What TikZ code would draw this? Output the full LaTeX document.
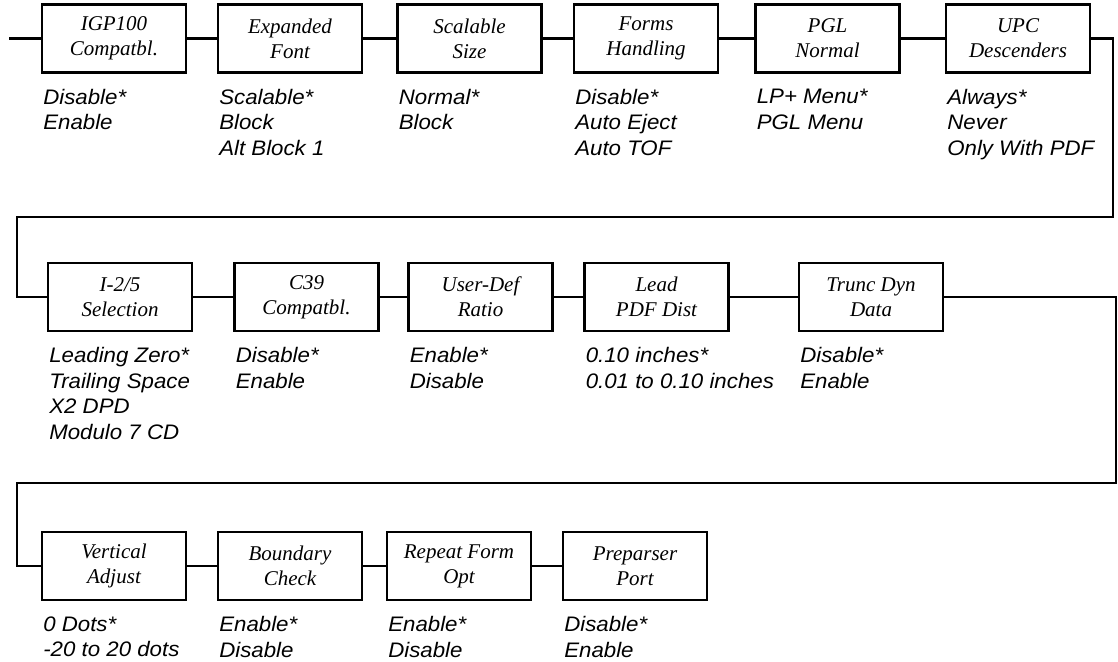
\documentclass[tikz,border=0pt]{standalone}
\usepackage{fontspec}
\setmainfont{Liberation Serif}
\newfontfamily\optfont[FakeStretch=1.06]{Liberation Sans}
\usetikzlibrary{calc}

\tikzset{
    menubox/.style={draw, line width=1.1pt, minimum width=72pt, minimum height=34pt,
        inner sep=0pt, align=center, font=\itshape\fontsize{10.5}{12.5}\selectfont},
    choices/.style={anchor=north west, inner sep=0pt, align=left,
        font=\optfont\itshape\fontsize{10.5}{12.8}\selectfont},
    link/.style={line width=1.1pt},
}

\begin{document}
\begin{tikzpicture}[x=0.5pt, y=-0.5pt]
    \useasboundingbox (0,0) rectangle (1118,662);
    \def\yA{38.5}
    \def\yB{297}
    \def\yC{566}

    % ---------- first row ----------
    \node[menubox] (igp)      at (114,\yA)    {IGP100\\Compatbl.};
    \node[menubox] (expfont)  at (290,\yA)    {Expanded\\Font};
    \node[menubox] (scalsize) at (469.5,\yA)  {Scalable\\Size};
    \node[menubox] (forms)    at (646,\yA)    {Forms\\Handling};
    \node[menubox] (pgl)      at (827.5,\yA)  {PGL\\Normal};
    \node[menubox] (upc)      at (1018,\yA)   {UPC\\Descenders};

    % ---------- second row ----------
    \node[menubox] (i25)      at (120,\yB)    {I-2/5\\Selection};
    \node[menubox] (c39)      at (306.5,\yB)  {C39\\Compatbl.};
    \node[menubox] (userdef)  at (480.5,\yB)  {User-Def\\Ratio};
    \node[menubox] (lead)     at (656.5,\yB)  {Lead\\PDF Dist};
    \node[menubox] (trunc)    at (871,\yB)    {Trunc Dyn\\Data};

    % ---------- third row ----------
    \node[menubox] (vert)     at (114,\yC)    {Vertical\\Adjust};
    \node[menubox] (bound)    at (290,\yC)    {Boundary\\Check};
    \node[menubox] (repeat)   at (459,\yC)    {Repeat Form\\Opt};
    \node[menubox] (prep)     at (635,\yC)    {Preparser\\Port};

    % ---------- choices under the boxes ----------
    \foreach \n/\t in {igp/{Disable*\\Enable},
                       expfont/{Scalable*\\Block\\Alt Block 1},
                       scalsize/{Normal*\\Block},
                       forms/{Disable*\\Auto Eject\\Auto TOF},
                       pgl/{LP+ Menu*\\PGL Menu},
                       upc/{Always*\\Never\\Only With PDF},
                       i25/{Leading Zero*\\Trailing Space\\X2 DPD\\Modulo 7 CD},
                       c39/{Disable*\\Enable},
                       userdef/{Enable*\\Disable},
                       lead/{0.10 inches*\\0.01 to 0.10 inches},
                       trunc/{Disable*\\Enable},
                       vert/{0 Dots*\\-20 to 20 dots},
                       bound/{Enable*\\Disable},
                       repeat/{Enable*\\Disable},
                       prep/{Disable*\\Enable}} {
        \node[choices] (\n opt) at ($(\n.south west)+(2,15)$) {\t};
    }

    % ---------- connectors ----------
    \coordinate (start) at (9,\yA);
    \coordinate (wrapAr) at (1113,217);
    \coordinate (wrapAl) at (17,217);
    \coordinate (wrapBr) at (1116,483);
    \coordinate (wrapBl) at (17,483);

    \draw[link] (start) -- (igp);
    \foreach \a/\b in {igp/expfont, expfont/scalsize, scalsize/forms, forms/pgl, pgl/upc,
                       i25/c39, c39/userdef, userdef/lead, lead/trunc,
                       vert/bound, bound/repeat, repeat/prep} {
        \draw[link] (\a) -- (\b);
    }
    \draw[link] (upc.east) -| (wrapAr) -- (wrapAl) |- (i25.west);
    \draw[link] (trunc.east) -| (wrapBr) -- (wrapBl) |- (vert.west);
\end{tikzpicture}
\end{document}
